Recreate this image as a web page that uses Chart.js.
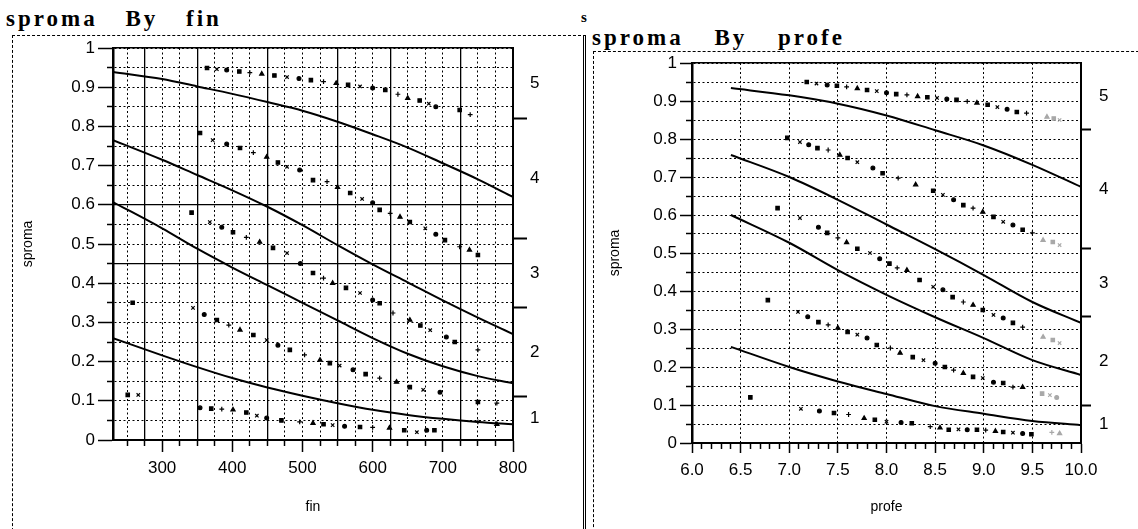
<!DOCTYPE html>
<html>
<head>
<meta charset="utf-8">
<title>sproma By fin / sproma By profe</title>
<script src="https://cdn.jsdelivr.net/npm/chart.js@4.4.1/dist/chart.umd.min.js"></script>
<style>
  body { margin: 0; background: #fff; }
  #page { position: relative; width: 1138px; height: 529px; overflow: hidden; background: #fff; }
  .head { position: absolute; font-family: "Liberation Serif", "Times New Roman", serif; font-weight: bold;
          font-size: 23px; line-height: 23px; letter-spacing: 3px; word-spacing: 19px; white-space: nowrap; color: #000; }
  .frame { position: absolute; border-top: 1px dashed #000; border-left: 1px dashed #000; }
  canvas { position: absolute; top: 0; }
</style>
</head>
<body>
<div id="page">
  <div class="frame" style="left:12px; top:35px; width:570px; height:520px; border-right:3px double #000;"></div>
  <div class="frame" style="left:593px; top:51px; width:560px; height:500px;"></div>
  <div class="head" style="left:6px; top:7px;">sproma By fin</div>
  <div class="head" style="left:592px; top:26px; word-spacing:22px;">sproma By profe</div>
  <div class="head" style="left:581px; top:6px; font-size:15px;">s</div>
  <canvas id="finChart" width="580" height="529" style="left:0"></canvas>
  <canvas id="profeChart" width="548" height="529" style="left:590px"></canvas>
</div>
<script>
Chart.defaults.font.family = '"Liberation Sans", Arial, Helvetica, sans-serif';
Chart.defaults.color = '#000';

// shared y axis (sproma) and response levels
const sromaTicks = [0, 0.05, 0.1, 0.15, 0.2, 0.25, 0.3, 0.35, 0.4, 0.45, 0.5,
                    0.55, 0.6, 0.65, 0.7, 0.75, 0.8, 0.85, 0.9, 0.95, 1];
const levels = ['1', '2', '3', '4', '5'];

// ---- sproma By fin ----
const finTicks = [250, 275, 300, 325, 350, 375, 400, 425, 450, 475, 500, 525,
                  550, 575, 600, 625, 650, 675, 700, 725, 750, 775, 800];
const finSolidX = [275, 350, 450, 550, 625, 725];
const finSolidY = [0.45, 0.6];
const finCuts = [0.112, 0.337, 0.513, 0.821];

const finCurveX = [230, 300, 350, 400, 450, 500, 550, 600, 650, 700, 750, 800];
const finLine1 = [0.939, 0.921, 0.902, 0.883, 0.862, 0.84, 0.812, 0.78, 0.746, 0.706, 0.665, 0.62];
const finLine2 = [0.765, 0.715, 0.676, 0.637, 0.595, 0.548, 0.497, 0.448, 0.402, 0.356, 0.312, 0.27];
const finLine3 = [0.607, 0.54, 0.488, 0.44, 0.395, 0.35, 0.305, 0.26, 0.22, 0.188, 0.163, 0.145];
const finLine4 = [0.26, 0.216, 0.186, 0.158, 0.134, 0.113, 0.094, 0.077, 0.064, 0.054, 0.046, 0.04];

const fin5X = [364, 378, 392, 410, 425, 442, 460, 478, 495, 512, 530, 548, 565, 582, 600, 618, 636, 650, 667, 680, 690, 724, 739];
const fin5Y = [0.949, 0.946, 0.944, 0.94, 0.937, 0.934, 0.93, 0.926, 0.922, 0.918, 0.914, 0.91, 0.906, 0.902, 0.898, 0.893, 0.882, 0.872, 0.866, 0.858, 0.85, 0.842, 0.83];
const fin4X = [354, 372, 392, 411, 430, 449, 465, 478, 496, 515, 535, 550, 568, 585, 600, 610, 625, 639, 653, 675, 690, 703, 724, 738, 750];
const fin4Y = [0.783, 0.765, 0.755, 0.745, 0.733, 0.722, 0.708, 0.697, 0.689, 0.663, 0.659, 0.645, 0.63, 0.615, 0.605, 0.587, 0.578, 0.569, 0.556, 0.54, 0.525, 0.51, 0.493, 0.485, 0.472];
const fin3X = [342, 368, 385, 401, 420, 439, 458, 478, 497, 515, 530, 543, 562, 582, 600, 610, 629, 653, 668, 682, 705, 717, 750];
const fin3Y = [0.58, 0.556, 0.543, 0.53, 0.517, 0.505, 0.49, 0.477, 0.45, 0.426, 0.413, 0.4, 0.388, 0.375, 0.357, 0.349, 0.324, 0.306, 0.292, 0.28, 0.263, 0.25, 0.23];
const fin2X = [258, 344, 360, 378, 395, 411, 430, 449, 465, 482, 503, 525, 539, 553, 572, 590, 610, 634, 653, 672, 696, 750, 777];
const fin2Y = [0.35, 0.337, 0.32, 0.306, 0.293, 0.281, 0.268, 0.255, 0.242, 0.23, 0.217, 0.204, 0.196, 0.19, 0.179, 0.168, 0.158, 0.148, 0.135, 0.128, 0.122, 0.097, 0.094];
const fin1X = [251, 266, 354, 370, 385, 401, 420, 435, 449, 470, 496, 515, 530, 543, 560, 582, 600, 624, 645, 663, 677, 688, 750, 777];
const fin1Y = [0.115, 0.115, 0.082, 0.08, 0.079, 0.077, 0.07, 0.062, 0.056, 0.05, 0.046, 0.043, 0.04, 0.038, 0.035, 0.033, 0.032, 0.031, 0.025, 0.02, 0.025, 0.025, 0.046, 0.04];

// ---- sproma By profe ----
const profeTicks = [6.0, 6.1, 6.2, 6.3, 6.4, 6.5, 6.6, 6.7, 6.8, 6.9, 7.0, 7.1, 7.2, 7.3, 7.4,
                    7.5, 7.6, 7.7, 7.8, 7.9, 8.0, 8.1, 8.2, 8.3, 8.4, 8.5, 8.6, 8.7, 8.8, 8.9,
                    9.0, 9.1, 9.2, 9.3, 9.4, 9.5, 9.6, 9.7, 9.8, 9.9, 10.0];
const profeCuts = [0.10, 0.332, 0.511, 0.826];

const profeCurveX = [6.4, 7.0, 7.5, 8.0, 8.5, 9.0, 9.5, 10.0];
const profeLine1 = [0.934, 0.915, 0.893, 0.862, 0.823, 0.783, 0.732, 0.674];
const profeLine2 = [0.758, 0.70, 0.64, 0.575, 0.51, 0.442, 0.371, 0.316];
const profeLine3 = [0.60, 0.527, 0.455, 0.39, 0.331, 0.276, 0.218, 0.179];
const profeLine4 = [0.253, 0.20, 0.162, 0.129, 0.097, 0.077, 0.058, 0.047];

const profe5X = [7.18, 7.28, 7.39, 7.49, 7.59, 7.7, 7.8, 7.9, 8.0, 8.1, 8.21, 8.32, 8.42, 8.52, 8.62, 8.72, 8.83, 8.93, 9.04, 9.14, 9.24, 9.34, 9.44, 9.65, 9.72, 9.78];
const profe5Y = [0.95, 0.946, 0.942, 0.94, 0.937, 0.933, 0.929, 0.926, 0.922, 0.918, 0.916, 0.912, 0.91, 0.908, 0.905, 0.903, 0.899, 0.895, 0.89, 0.884, 0.878, 0.871, 0.868, 0.858, 0.854, 0.85];
const profe4X = [6.98, 7.11, 7.2, 7.29, 7.4, 7.52, 7.6, 7.7, 7.86, 7.96, 8.12, 8.3, 8.48, 8.58, 8.69, 8.79, 8.89, 8.99, 9.1, 9.2, 9.3, 9.4, 9.5, 9.61, 9.71, 9.78];
const profe4Y = [0.803, 0.792, 0.785, 0.776, 0.771, 0.758, 0.75, 0.739, 0.724, 0.71, 0.697, 0.68, 0.664, 0.653, 0.64, 0.626, 0.618, 0.608, 0.595, 0.582, 0.574, 0.561, 0.553, 0.534, 0.529, 0.521];
const profe3X = [6.88, 7.11, 7.3, 7.39, 7.5, 7.59, 7.7, 7.83, 7.93, 8.03, 8.11, 8.21, 8.34, 8.48, 8.58, 8.68, 8.79, 8.89, 8.99, 9.1, 9.2, 9.3, 9.4, 9.61, 9.71, 9.78];
const profe3Y = [0.618, 0.592, 0.568, 0.553, 0.54, 0.528, 0.511, 0.5, 0.485, 0.472, 0.461, 0.455, 0.429, 0.411, 0.403, 0.384, 0.371, 0.363, 0.35, 0.337, 0.329, 0.316, 0.305, 0.279, 0.271, 0.263];
const profe2X = [6.78, 7.09, 7.19, 7.3, 7.4, 7.5, 7.6, 7.7, 7.8, 7.9, 8.04, 8.14, 8.27, 8.38, 8.5, 8.6, 8.69, 8.79, 8.89, 8.99, 9.1, 9.2, 9.3, 9.4, 9.6, 9.68, 9.75];
const profe2Y = [0.376, 0.345, 0.332, 0.318, 0.311, 0.303, 0.292, 0.285, 0.276, 0.258, 0.25, 0.237, 0.226, 0.218, 0.21, 0.2, 0.192, 0.184, 0.174, 0.171, 0.16, 0.158, 0.147, 0.147, 0.13, 0.126, 0.12];
const profe1X = [6.6, 7.12, 7.31, 7.46, 7.61, 7.77, 7.88, 8.0, 8.15, 8.26, 8.45, 8.55, 8.64, 8.74, 8.83, 8.93, 9.02, 9.12, 9.2, 9.3, 9.4, 9.49, 9.7, 9.78];
const profe1Y = [0.12, 0.09, 0.084, 0.079, 0.075, 0.065, 0.061, 0.056, 0.054, 0.052, 0.043, 0.04, 0.035, 0.036, 0.035, 0.035, 0.034, 0.031, 0.029, 0.027, 0.025, 0.023, 0.028, 0.025];

const markStyles = ['rect', 'crossRot', 'circle', 'rect', 'cross', 'triangle'];

function pairs(xs, ys) {
  return xs.map((x, i) => ({x: x, y: ys[i]}));
}
function isMajorY(v) {
  return Math.round(v * 100) % 10 === 0;
}
function yLabel(v) {
  return isMajorY(v) ? String(Math.round(v * 10) / 10) : '';
}
// label positions of the levels: middle of each band between the marginal cuts
function midpoints(cuts) {
  const b = [0].concat(cuts, [1]);
  return levels.map((l, i) => (b[i] + b[i + 1]) / 2);
}
function setTicks(list) {
  return s => { s.ticks = list.map(v => ({value: v})); };
}

function makePanel(id, p) {
  const datasets = [];
  p.lines.forEach(ys => {
    datasets.push({
      type: 'line', data: pairs(p.curveX, ys), xAxisID: 'x', yAxisID: 'y',
      borderColor: '#000', borderWidth: 2, pointRadius: 0, fill: false,
      cubicInterpolationMode: 'monotone'
    });
  });
  p.points.forEach(pt => {
    const col = c => (c.raw && c.raw.x > p.fadeFrom) ? '#a8a8a8' : '#000';
    datasets.push({
      type: 'scatter', data: pairs(pt[0], pt[1]), xAxisID: 'x', yAxisID: 'y',
      pointStyle: c => markStyles[c.dataIndex % markStyles.length],
      pointRadius: c => markStyles[c.dataIndex % markStyles.length] === 'circle' ? 1.9 : 2.4,
      backgroundColor: col, borderColor: col, borderWidth: 1.2
    });
  });

  const scales = {
    x: {
      type: 'linear', position: 'bottom', min: p.xMin, max: p.xMax,
      afterBuildTicks: setTicks(p.xTicks),
      afterFit: s => { s.height = p.xHeight; },
      ticks: {autoSkip: false, maxRotation: 0, padding: p.xPad, font: {size: 17},
              callback: v => p.xMajor(v) ? p.xLabel(v) : ''},
      grid: {
        color: c => (!c.tick || p.xGrid(c.tick.value)) ? '#000' : 'rgba(0,0,0,0)',
        lineWidth: 1, tickLength: p.xTickLen, tickColor: '#000', tickWidth: 1.5,
        tickBorderDash: c => (!c.tick || p.xMajor(c.tick.value)) ? [] : [5, 40]
      },
      border: {color: '#000', width: 2, dash: [2, 2.5]},
      title: {display: true, text: p.xTitle, font: {size: 14}, padding: {top: 0, bottom: 13}}
    },
    y: {
      type: 'linear', position: 'left', min: 0, max: 1,
      afterBuildTicks: setTicks(sromaTicks),
      afterFit: s => { s.width = p.left; },
      ticks: {autoSkip: false, padding: 3, font: {size: 17}, callback: v => yLabel(v)},
      grid: {
        color: '#000', lineWidth: 1, tickLength: p.yTickLen, tickColor: '#000', tickWidth: 1.5,
        tickBorderDash: c => (!c.tick || isMajorY(c.tick.value)) ? [] : [6, p.yTickLen - 6],
        tickBorderDashOffset: c => (!c.tick || isMajorY(c.tick.value)) ? 0 : 6
      },
      border: {color: '#000', width: 2.5, dash: [2, 2.5]},
      title: {display: true, text: 'sproma', font: {size: 14}, padding: {top: p.yTitlePad, bottom: 0}}
    },
    xTop: {
      type: 'linear', position: 'top', min: p.xMin, max: p.xMax,
      afterFit: s => { s.height = 0; },
      ticks: {display: false}, grid: {display: false},
      border: {display: true, color: '#000', width: 1.5}
    }
  };
  if (p.solidX.length) {
    scales.xSolid = {
      type: 'linear', position: 'bottom', min: p.xMin, max: p.xMax,
      afterBuildTicks: setTicks(p.solidX),
      afterFit: s => { s.height = 0; },
      ticks: {display: false},
      grid: {color: '#000', lineWidth: 1.3, drawTicks: false},
      border: {display: false, dash: []}
    };
  }
  if (p.solidY.length) {
    scales.ySolid = {
      type: 'linear', position: 'left', min: 0, max: 1,
      afterBuildTicks: setTicks(p.solidY),
      afterFit: s => { s.width = 0; },
      ticks: {display: false},
      grid: {color: '#000', lineWidth: 1.3, drawTicks: false},
      border: {display: false, dash: []}
    };
  }
  scales.yCut = {
    type: 'linear', position: 'right', min: 0, max: 1,
    afterBuildTicks: setTicks(p.cuts),
    afterFit: s => { s.width = p.cutLen; },
    ticks: {display: false},
    grid: {drawOnChartArea: false, tickLength: p.cutLen, tickWidth: 2, tickColor: '#000', color: '#000'},
    border: {display: true, color: '#000', width: 2}
  };
  scales.yLab = {
    type: 'linear', position: 'right', min: 0, max: 1,
    afterBuildTicks: setTicks(midpoints(p.cuts)),
    afterFit: s => { s.width = 40; },
    ticks: {autoSkip: false, padding: p.labPad, font: {size: 17}, callback: (v, i) => levels[i]},
    grid: {display: false, drawTicks: false, drawOnChartArea: false},
    border: {display: false}
  };

  return new Chart(document.getElementById(id), {
    type: 'scatter',
    data: {datasets: datasets},
    options: {
      responsive: false,
      animation: false,
      devicePixelRatio: 1,
      layout: {padding: {left: 0, top: p.top, right: p.padRight, bottom: 0}},
      plugins: {legend: {display: false}, tooltip: {enabled: false}},
      scales: scales
    }
  });
}

makePanel('finChart', {
  xMin: 230, xMax: 800, xTicks: finTicks, xTitle: 'fin',
  xMajor: v => v % 100 === 0, xGrid: v => true, xLabel: v => String(v),
  xHeight: 89, xPad: 6, xTickLen: 12,
  left: 113, top: 48, padRight: 13, yTickLen: 15, yTitlePad: 20,
  cuts: finCuts, cutLen: 14, labPad: 3,
  solidX: finSolidX, solidY: finSolidY,
  curveX: finCurveX, lines: [finLine1, finLine2, finLine3, finLine4],
  points: [[fin5X, fin5Y], [fin4X, fin4Y], [fin3X, fin3Y], [fin2X, fin2Y], [fin1X, fin1Y]],
  fadeFrom: 1e9
});

makePanel('profeChart', {
  xMin: 6, xMax: 10, xTicks: profeTicks, xTitle: 'profe',
  xMajor: v => Math.round(v * 10) % 5 === 0, xGrid: v => Math.round(v * 10) % 5 === 0,
  xLabel: v => v.toFixed(1),
  xHeight: 86, xPad: 7, xTickLen: 10,
  left: 102, top: 63, padRight: 7, yTickLen: 12, yTitlePad: 17,
  cuts: profeCuts, cutLen: 10, labPad: 8,
  solidX: [], solidY: [],
  curveX: profeCurveX, lines: [profeLine1, profeLine2, profeLine3, profeLine4],
  points: [[profe5X, profe5Y], [profe4X, profe4Y], [profe3X, profe3Y], [profe2X, profe2Y], [profe1X, profe1Y]],
  fadeFrom: 9.55
});
</script>
</body>
</html>
